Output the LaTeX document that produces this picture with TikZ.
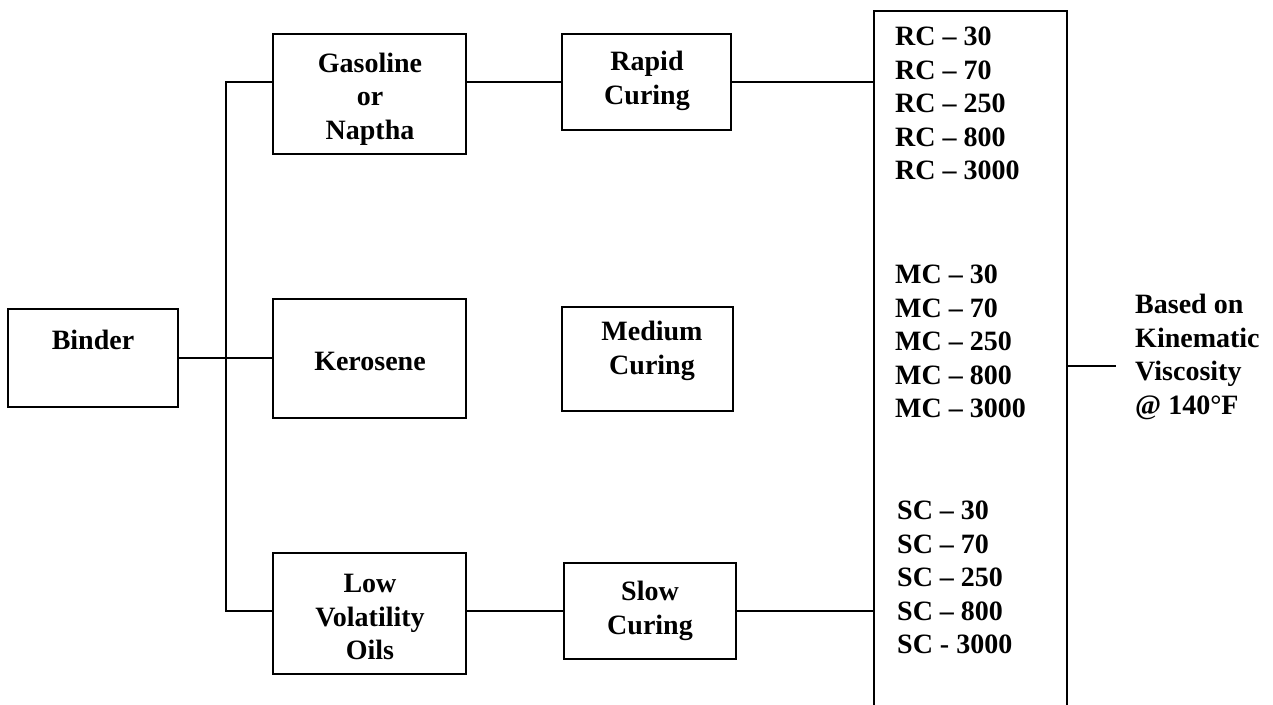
\documentclass[tikz,border=0pt]{standalone}
\usepackage{fontspec}
\setmainfont{Liberation Serif}
\begin{document}
\begin{tikzpicture}[x=1pt,y=-1pt,
  box/.style={draw, line width=1.8pt, inner sep=0pt, outer sep=0pt, anchor=north west},
  lbl/.style={font=\bfseries\fontsize{28}{33.5}\selectfont, align=center, inner sep=0pt},
  lst/.style={font=\bfseries\fontsize{28}{33.5}\selectfont, align=left, inner sep=0pt, anchor=west},
  conn/.style={line width=1.8pt}]
\clip (0,0) rectangle (1273,704);
\fill[white] (0,0) rectangle (1273,704);
% boxes
\node[box, minimum width=170pt, minimum height=98pt] (binder) at (8,309) {};
\node[box, minimum width=193pt, minimum height=120pt] (gas) at (273,34) {};
\node[box, minimum width=193pt, minimum height=119pt] (kero) at (273,299) {};
\node[box, minimum width=193pt, minimum height=121pt] (low) at (273,553) {};
\node[box, minimum width=169pt, minimum height=96pt] (rapid) at (562,34) {};
\node[box, minimum width=171pt, minimum height=104pt] (medium) at (562,307) {};
\node[box, minimum width=172pt, minimum height=96pt] (slow) at (564,563) {};
\node[box, minimum width=193pt, minimum height=720pt] (big) at (874,11) {};
% labels
\node[lbl] (tbinder) at (93,340) {Binder};
\node[lbl] (tgas) at (370,99) {Gasoline\\or\\Naptha};
\node[lbl] (tkero) at (370,361) {Kerosene};
\node[lbl] (tlow) at (370,617) {Low\\Volatility\\Oils};
\node[lbl] (trapid) at (647,81) {Rapid\\Curing};
\node[lbl] (tmedium) at (652,351) {Medium\\Curing};
\node[lbl] (tslow) at (650,611) {Slow\\Curing};
\node[lst] (rc) at (895,103.5) {RC – 30\\RC – 70\\RC – 250\\RC – 800\\RC – 3000};
\node[lst] (mc) at (895,341.5) {MC – 30\\MC – 70\\MC – 250\\MC – 800\\MC – 3000};
\node[lst] (sc) at (897,577.5) {SC – 30\\SC – 70\\SC – 250\\SC – 800\\SC - 3000};
\node[lst] (based) at (1135,357) {Based on\\Kinematic\\Viscosity\\@ 140°F};
% connectors
\coordinate (tTop) at (226,82);
\coordinate (tBot) at (226,611);
\coordinate (tMid) at (226,358);
\coordinate (vis) at (1116,366);
\draw[conn] (binder.east|-tMid) -- (kero.west|-tMid);
\draw[conn] (gas.west|-tTop) -- (tTop) -- (tBot) -- (low.west|-tBot);
\draw[conn] (gas.east|-tTop) -- (rapid.west);
\draw[conn] (rapid.east) -- (big.west|-rapid.east);
\draw[conn] (low.east|-tBot) -- (slow.west);
\draw[conn] (slow.east) -- (big.west|-slow.east);
\draw[conn] (big.east|-vis) -- (vis);
\end{tikzpicture}
\end{document}
